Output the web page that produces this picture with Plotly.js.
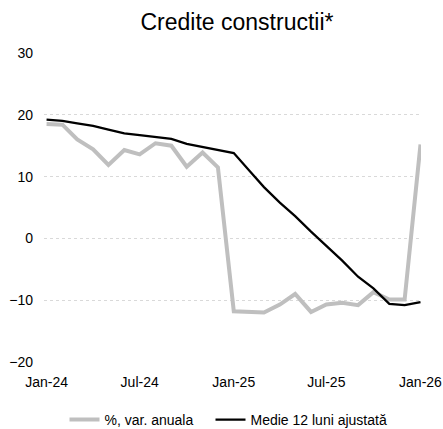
<!DOCTYPE html>
<html>
<head>
<meta charset="utf-8">
<script src="https://cdn.plot.ly/plotly-3.0.1.min.js"></script>
<style>
  html, body { margin: 0; padding: 0; background: #fff; }
  #chart { width: 443px; height: 429px; }
</style>
</head>
<body>
<div id="chart"></div>
<script>
const months = [
  "2024-01-01","2024-02-01","2024-03-01","2024-04-01","2024-05-01","2024-06-01",
  "2024-07-01","2024-08-01","2024-09-01","2024-10-01","2024-11-01","2024-12-01",
  "2025-01-01","2025-02-01","2025-03-01","2025-04-01","2025-05-01","2025-06-01",
  "2025-07-01","2025-08-01","2025-09-01","2025-10-01","2025-11-01","2025-12-01",
  "2026-01-01"
];
const varAnuala = [
  18.5, 18.4, 16.0, 14.4, 11.9, 14.3, 13.6, 15.4, 15.0, 11.6, 13.9, 11.5,
  -11.8, -11.9, -12.0, -10.7, -9.0, -11.9, -10.7, -10.4, -10.8, -8.7, -9.9, -9.9,
  15.2
];
const medie12 = [
  19.2, 19.0, 18.6, 18.2, 17.6, 17.0, 16.7, 16.4, 16.1, 15.3, 14.8, 14.3,
  13.8, 10.9, 8.3, 5.8, 3.6, 1.1, -1.2, -3.6, -6.2, -8.1, -10.6, -10.8,
  -10.3
];
const seriesNames = ["%, var. anuala", "Medie 12 luni ajustată"];
const chartTitle = "Credite constructii*";
const yTicks = [-20, -10, 0, 10, 20, 30];

const FONT = "Liberation Sans, Arial, sans-serif";
const xRange = ["2023-12-27", "2026-01-02"];

const traces = [
  { x: months, y: varAnuala, name: seriesNames[0], type: "scatter", mode: "lines",
    legendwidth: 101, line: { color: "#bfbfbf", width: 4 } },
  { x: months, y: medie12, name: seriesNames[1], type: "scatter", mode: "lines",
    line: { color: "#000000", width: 2.25 } }
];

const layout = {
  width: 443, height: 429,
  margin: { l: 44, r: 22, t: 53, b: 66.5, pad: 0 },
  paper_bgcolor: "#ffffff", plot_bgcolor: "#ffffff",
  font: { family: FONT, size: 14, color: "#000000" },
  title: { text: chartTitle, font: { family: FONT, size: 23, color: "#000000" },
           x: 0.535, xanchor: "center", y: 0.95, yanchor: "middle", xref: "container", yref: "container" },
  showlegend: true,
  legend: { orientation: "h", x: 0.1456, xanchor: "left", xref: "container",
            y: 0.021, yanchor: "middle", yref: "container",
            font: { family: FONT, size: 14, color: "#000000" },
            itemwidth: 30 },
  xaxis: {
    type: "date", range: xRange, dtick: "M6", tick0: "2024-01-01", tickformat: "%b-%y",
    showgrid: false, zeroline: false, showline: false, ticks: "",
    ticklabelstandoff: 10, tickfont: { family: FONT, size: 14, color: "#000000" },
    fixedrange: true
  },
  xaxis2: {
    type: "date", range: xRange, dtick: "M6", tick0: "2024-01-01",
    overlaying: "x", anchor: "free", position: 0.4, side: "bottom",
    showgrid: false, zeroline: false, showline: true, linecolor: "#d9d9d9", linewidth: 1.5,
    ticks: "outside", ticklen: 4, tickwidth: 1.5, tickcolor: "#d9d9d9", showticklabels: false
  },
  yaxis: {
    range: [-20, 30], tickvals: yTicks, showgrid: true, gridcolor: "#d9d9d9", griddash: "dot",
    gridwidth: 1, zeroline: false, showline: false, ticks: "",
    ticklabelstandoff: 10, tickfont: { family: FONT, size: 14, color: "#000000" },
    fixedrange: true
  }
};

Plotly.newPlot("chart", traces, layout, { displayModeBar: false, staticPlot: true });
</script>
</body>
</html>
